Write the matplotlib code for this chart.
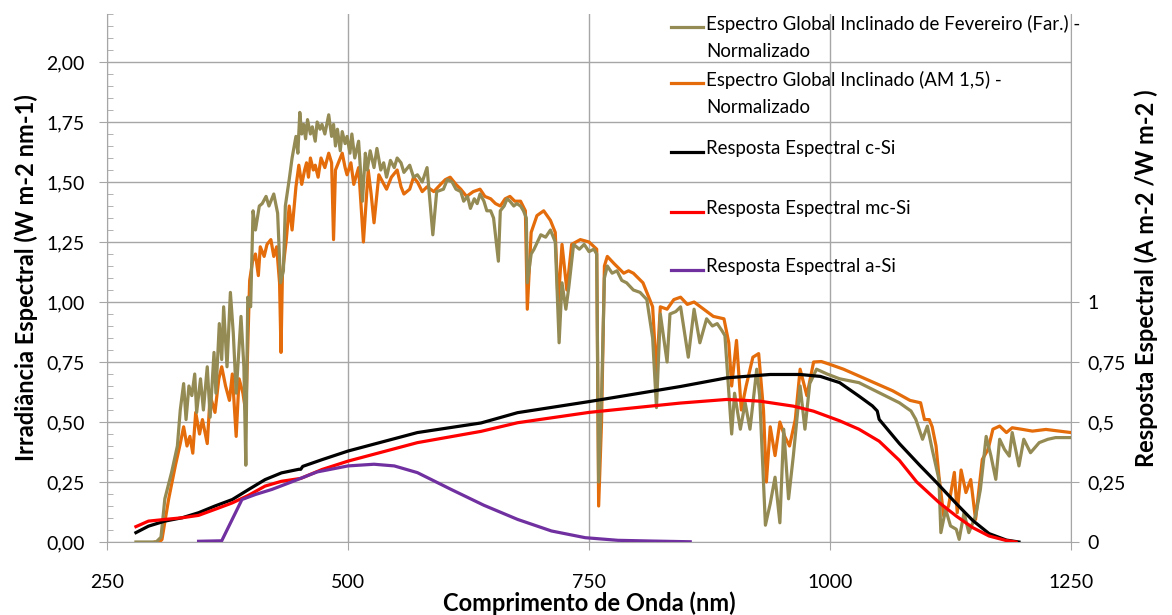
import matplotlib
matplotlib.use("Agg")
import matplotlib.pyplot as plt
from matplotlib.lines import Line2D
from matplotlib.ticker import MultipleLocator, FixedLocator

plt.rcParams['font.family'] = ['Lato', 'DejaVu Sans']

# ---- data ----
wl_feb = [280, 301, 306, 310, 317, 323, 326, 329.5, 332, 335, 338, 341, 343, 347, 350, 354, 357, 361, 363, 366.5,
          369, 371, 374.5, 378, 381, 384, 387, 389, 392, 394, 396, 399, 401.5, 404, 408, 411, 415, 418, 423, 427,
          430, 433, 435, 439, 442, 446, 448, 450, 452, 454, 456, 458, 461, 463, 466, 468, 471, 473, 476, 480,
          483, 485, 487, 489, 492, 494, 497, 499, 502, 504, 507, 511, 515, 518, 520, 523, 527, 530, 534, 537,
          540, 544, 548, 551, 555, 558, 564, 568, 572, 577, 582, 588, 592, 599, 603, 608, 612, 617, 620, 624,
          627, 631, 634, 637, 641, 644, 648, 651, 656, 658, 662, 665, 668, 672, 675, 679, 682, 685, 686, 690,
          693, 700, 705, 710, 715, 719, 722, 726, 729, 734, 740, 745, 750, 755, 758, 760, 763, 766, 769, 774,
          779, 784, 789, 796, 803, 810, 816, 820, 824, 831, 834, 840, 845, 853, 859, 865, 872, 878, 883, 888,
          891, 898, 901, 907, 912, 917, 924, 927, 933, 938, 943, 948, 952, 957, 962, 969, 974, 979, 986, 997,
          1010, 1030, 1051, 1072, 1084, 1089, 1096, 1101, 1106, 1113, 1115, 1120, 1125, 1131, 1134, 1139, 1144, 1151, 1156, 1162,
          1167, 1172, 1176, 1181, 1186, 1189, 1196, 1201, 1208, 1217, 1226, 1234, 1250]
feb = [0.00, 0.00, 0.02, 0.18, 0.29, 0.40, 0.55, 0.66, 0.51, 0.65, 0.61, 0.70, 0.54, 0.68, 0.55, 0.73, 0.52, 0.79, 0.62, 0.91,
       0.76, 0.98, 0.73, 1.04, 0.87, 0.62, 0.81, 0.94, 0.73, 0.32, 1.02, 0.98, 1.38, 1.30, 1.40, 1.41, 1.44, 1.40, 1.45, 1.37,
       1.08, 1.13, 1.40, 1.51, 1.60, 1.69, 1.62, 1.79, 1.70, 1.74, 1.68, 1.76, 1.70, 1.73, 1.67, 1.75, 1.72, 1.74, 1.70, 1.78,
       1.69, 1.74, 1.65, 1.72, 1.63, 1.71, 1.66, 1.69, 1.62, 1.70, 1.60, 1.67, 1.42, 1.62, 1.55, 1.63, 1.56, 1.64, 1.55, 1.58,
       1.52, 1.59, 1.56, 1.60, 1.58, 1.54, 1.57, 1.52, 1.53, 1.50, 1.56, 1.28, 1.46, 1.47, 1.51, 1.50, 1.47, 1.46, 1.42, 1.44,
       1.39, 1.43, 1.41, 1.45, 1.42, 1.38, 1.38, 1.35, 1.17, 1.38, 1.40, 1.43, 1.42, 1.40, 1.41, 1.40, 1.38, 1.35, 1.08, 1.20,
       1.22, 1.28, 1.27, 1.30, 1.25, 0.83, 1.08, 0.97, 1.06, 1.24, 1.22, 1.24, 1.21, 1.22, 1.20, 0.25, 0.60, 1.10, 1.15, 1.12,
       1.13, 1.09, 1.08, 1.05, 1.04, 1.01, 0.85, 0.56, 0.95, 0.75, 0.95, 0.96, 0.98, 0.77, 0.97, 0.83, 0.93, 0.90, 0.91, 0.88,
       0.86, 0.45, 0.62, 0.47, 0.58, 0.47, 0.72, 0.61, 0.07, 0.16, 0.27, 0.08, 0.47, 0.18, 0.36, 0.65, 0.47, 0.66, 0.72, 0.70,
       0.68, 0.664, 0.622, 0.58, 0.546, 0.511, 0.428, 0.483, 0.386, 0.261, 0.039, 0.136, 0.067, 0.053, 0.011, 0.122, 0.039, 0.108, 0.219, 0.44,
       0.358, 0.261, 0.428, 0.386, 0.358, 0.456, 0.317, 0.428, 0.372, 0.414, 0.428, 0.435, 0.435]

wl_am15 = [300, 304, 307, 314, 321, 326, 329.5, 333, 336, 339, 342, 346, 349, 354, 357, 362, 366, 369, 373, 377,
           380, 384, 387, 391, 394, 398, 401, 404, 407, 409, 413, 416, 420, 423, 426, 429, 430.5, 432, 436, 439,
           442, 446, 449, 452, 455, 457, 459, 461, 464, 466, 469, 472, 476, 480, 483, 485, 487, 489, 492, 494,
           497, 499, 503, 506, 511, 516, 521, 524, 527, 532, 536, 540, 545, 551, 555, 558, 564, 568, 572, 577,
           582, 589, 596, 601, 606, 612, 617, 623, 630, 637, 642, 648, 653, 658, 663, 668, 673, 679, 684, 686,
           690, 696, 703, 710, 715, 718, 722, 727, 732, 741, 750, 758, 760, 763, 766, 769, 776, 781, 786, 791,
           796, 806, 816, 820, 824, 831, 838, 845, 852, 859, 869, 879, 890, 895, 898, 903, 908, 913, 920, 926,
           931, 934, 938, 943, 948, 953, 958, 964, 969, 976, 983, 991, 1000, 1014, 1031, 1048, 1065, 1083, 1094, 1098,
           1103, 1106, 1110, 1113, 1118, 1123, 1129, 1132, 1136, 1141, 1146, 1151, 1158, 1164, 1169, 1176, 1183, 1189, 1200, 1210,
           1224, 1238, 1250]
am15 = [0.00, 0.00, 0.01, 0.18, 0.32, 0.41, 0.48, 0.40, 0.44, 0.37, 0.54, 0.45, 0.51, 0.41, 0.61, 0.54, 0.68, 0.73, 0.65, 0.59,
        0.70, 0.44, 0.68, 0.62, 0.54, 1.09, 1.17, 1.20, 1.11, 1.23, 1.19, 1.24, 1.26, 1.19, 1.23, 1.08, 0.79, 1.12, 1.26, 1.40,
        1.30, 1.48, 1.57, 1.49, 1.55, 1.58, 1.52, 1.60, 1.55, 1.57, 1.52, 1.60, 1.56, 1.62, 1.58, 1.26, 1.55, 1.57, 1.60, 1.62,
        1.56, 1.53, 1.58, 1.49, 1.56, 1.25, 1.55, 1.45, 1.33, 1.53, 1.50, 1.47, 1.52, 1.55, 1.48, 1.45, 1.47, 1.52, 1.50, 1.46,
        1.48, 1.46, 1.49, 1.51, 1.52, 1.49, 1.47, 1.44, 1.46, 1.47, 1.44, 1.43, 1.41, 1.40, 1.43, 1.44, 1.42, 1.42, 1.38, 0.97,
        1.29, 1.36, 1.38, 1.34, 1.29, 0.99, 1.24, 1.05, 1.24, 1.26, 1.25, 1.22, 0.15, 0.50, 1.15, 1.19, 1.16, 1.14, 1.12, 1.13,
        1.12, 1.08, 0.98, 0.70, 0.98, 0.97, 1.01, 1.02, 0.99, 1.00, 0.97, 0.94, 0.93, 0.83, 0.65, 0.84, 0.55, 0.65, 0.77, 0.785,
        0.55, 0.25, 0.48, 0.36, 0.50, 0.44, 0.40, 0.51, 0.72, 0.61, 0.75, 0.752, 0.74, 0.72, 0.69, 0.66, 0.63, 0.59, 0.58, 0.51,
        0.51, 0.48, 0.40, 0.275, 0.108, 0.15, 0.29, 0.122, 0.30, 0.206, 0.26, 0.094, 0.344, 0.386, 0.47, 0.483, 0.456, 0.476, 0.469, 0.462,
        0.469, 0.462, 0.456]

wl_csi = [280, 293, 310, 328, 345, 362, 380, 397, 414, 431, 449, 451, 453, 473, 500, 572, 638, 676, 750, 845,
          893, 938, 969, 990, 1010, 1030, 1044, 1049, 1051, 1072, 1093, 1110, 1131, 1148, 1165, 1183, 1196]
csi = [0.039, 0.066, 0.087, 0.101, 0.122, 0.150, 0.177, 0.219, 0.260, 0.288, 0.303, 0.303, 0.315, 0.343, 0.379, 0.456, 0.496, 0.539, 0.585, 0.648,
       0.684, 0.698, 0.698, 0.690, 0.664, 0.608, 0.567, 0.546, 0.511, 0.410, 0.320, 0.250, 0.160, 0.090, 0.035, 0.008, 0.000]

wl_mcsi = [280, 293, 310, 328, 345, 362, 380, 397, 414, 431, 451, 473, 500, 572, 638, 676, 750, 845, 893, 927,
           962, 983, 1010, 1030, 1051, 1072, 1090, 1113, 1131, 1148, 1165, 1183, 1193]
mcsi = [0.064, 0.087, 0.094, 0.101, 0.111, 0.136, 0.163, 0.195, 0.233, 0.253, 0.265, 0.302, 0.337, 0.414, 0.461, 0.497, 0.540, 0.579, 0.594, 0.587,
        0.566, 0.545, 0.505, 0.470, 0.420, 0.340, 0.250, 0.165, 0.108, 0.060, 0.025, 0.006, 0.000]

wl_asi = [345, 369, 390, 404, 421, 438, 468, 500, 527, 548, 572, 607, 641, 676, 711, 746, 780, 815, 855]
asi = [0.003, 0.005, 0.177, 0.198, 0.219, 0.245, 0.292, 0.317, 0.324, 0.317, 0.289, 0.219, 0.153, 0.094, 0.046, 0.018, 0.007, 0.004, 0.001]

labels = ["Espectro Global Inclinado de Fevereiro (Far.) -\nNormalizado",
          "Espectro Global Inclinado (AM 1,5) -\nNormalizado",
          "Resposta Espectral c-Si",
          "Resposta Espectral mc-Si",
          "Resposta Espectral a-Si"]
colors = ["#948A54", "#E46C0A", "#000000", "#FF0000", "#7030A0"]

left_ticks = [0, 0.25, 0.5, 0.75, 1.0, 1.25, 1.5, 1.75, 2.0]
left_ticklabels = ["0,00", "0,25", "0,50", "0,75", "1,00", "1,25", "1,50", "1,75", "2,00"]
right_ticks = [0, 0.25, 0.5, 0.75, 1.0]
right_ticklabels = ["0", "0,25", "0,5", "0,75", "1"]
x_ticks = [250, 500, 750, 1000, 1250]

# ---- figure ----
W, H = 1172, 615
fig = plt.figure(figsize=(W / 100, H / 100), dpi=100)
ax = fig.add_axes([107 / W, 1 - 542 / H, (1071 - 107) / W, (542 - 14) / H])
grid_c = "#A6A6A6"

ax.set_xlim(250, 1250)
ax.set_ylim(0, 2.2)
ax.set_xticks(x_ticks)
ax.set_yticks(left_ticks)
ax.set_yticklabels(left_ticklabels)
ax.yaxis.set_minor_locator(MultipleLocator(0.05))
ax.grid(True, which='major', color=grid_c, lw=1.0)
ax.set_axisbelow(True)
ax.spines['top'].set_visible(False)
for s in ['left', 'bottom', 'right']:
    ax.spines[s].set_color(grid_c)
ax.tick_params(axis='y', which='major', direction='out', length=6, color=grid_c, labelsize=14, pad=10)
ax.tick_params(axis='y', which='minor', direction='in', length=4, color=grid_c)
ax.tick_params(axis='x', which='major', direction='out', length=6, color=grid_c, labelsize=14, pad=17)

ax.plot(wl_am15, am15, color=colors[1], lw=2.3, zorder=3)
ax.plot(wl_feb, feb, color=colors[0], lw=2.3, zorder=4)
ax.plot(wl_csi, csi, color=colors[2], lw=2.3, zorder=5)
ax.plot(wl_mcsi, mcsi, color=colors[3], lw=2.3, zorder=5)
ax.plot(wl_asi, asi, color=colors[4], lw=2.3, zorder=5)

ax.set_ylabel("Irradiância Espectral (W m-2 nm-1)", fontsize=17, fontweight='bold', labelpad=6)
ax.set_xlabel("Comprimento de Onda (nm)", fontsize=17, fontweight='bold', labelpad=0)

ax2 = ax.twinx()
ax2.set_ylim(0, 2.2)
ax2.yaxis.set_major_locator(FixedLocator(right_ticks))
ax2.set_yticklabels(right_ticklabels)
for s in ax2.spines.values():
    s.set_visible(False)
ax2.tick_params(axis='y', direction='out', length=6, color=grid_c, labelsize=14, pad=6)
ax2.set_ylabel("Resposta Espectral (A m-2 /W m-2 )", fontsize=17, fontweight='bold', labelpad=6)

# ---- legend (manual, Excel-style spacing) ----
leg_rows = [27, 83, 152, 212, 270]
for lab, col, yp in zip(labels, colors, leg_rows):
    yf = 1 - yp / H
    fig.add_artist(Line2D([671 / W, 703 / W], [yf, yf], color=col, lw=2.3, transform=fig.transFigure))
    fig.text(706 / W, yf + 12 / H, lab, fontsize=13.4, va='top', ha='left', linespacing=1.7,
             transform=fig.transFigure)

fig.savefig("out.png", dpi=100)
